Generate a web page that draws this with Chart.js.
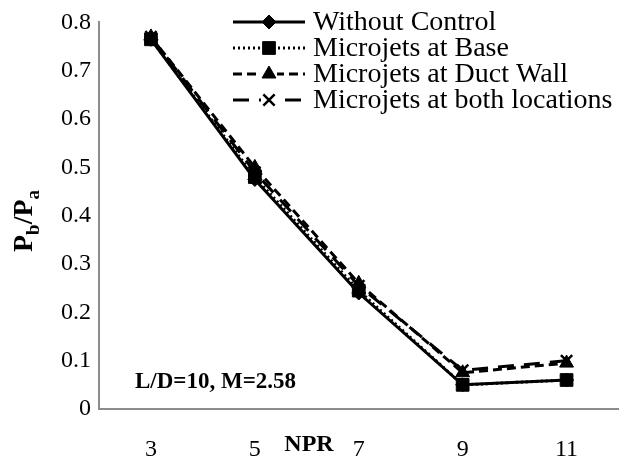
<!DOCTYPE html>
<html>
<head>
<meta charset="utf-8">
<script src="https://cdn.jsdelivr.net/npm/chart.js@4/dist/chart.umd.min.js"></script>
<style>
  html, body { margin: 0; padding: 0; background: #fff; }
  #wrap { width: 629px; height: 462px; }
</style>
</head>
<body>
<div id="wrap"><canvas id="npr" width="629" height="462"></canvas></div>
<script>
const nprLabels = ['3', '5', '7', '9', '11'];
const withoutControl = [0.765, 0.475, 0.24, 0.05, 0.06];
const jetsBase = [0.765, 0.48, 0.245, 0.05, 0.06];
const jetsDuctWall = [0.77, 0.50, 0.26, 0.075, 0.095];
const jetsBoth = [0.77, 0.49, 0.255, 0.08, 0.10];
const yTicks = [0, 0.1, 0.2, 0.3, 0.4, 0.5, 0.6, 0.7, 0.8];

const serif = "'Liberation Serif', 'Times New Roman', serif";
const axisGray = '#8c8c8c';

function series(label, data, dash, pointStyle, radius, order) {
    return {
        label: label,
        data: data,
        borderColor: '#000',
        backgroundColor: '#000',
        borderWidth: 3,
        borderDash: dash,
        pointStyle: pointStyle,
        pointRadius: radius,
        pointBorderWidth: pointStyle === 'crossRot' ? 2.5 : 1,
        pointBorderColor: '#000',
        pointBackgroundColor: '#000',
        tension: 0,
        fill: false,
        order: order
    };
}

// legend drawn like the spreadsheet one: line sample with marker in the middle
const sampleLegend = {
    id: 'sampleLegend',
    afterDraw(chart) {
        const ctx = chart.ctx;
        const x0 = 233, x1 = 305, textX = 313;
        const rows = [22, 48, 74, 100];
        chart.data.datasets.forEach((ds, i) => {
            const y = rows[i];
            const mx = (x0 + x1) / 2;
            ctx.save();
            ctx.strokeStyle = '#000';
            ctx.lineWidth = 3;
            ctx.setLineDash(ds.borderDash || []);
            ctx.beginPath();
            ctx.moveTo(x0, y);
            ctx.lineTo(x1, y);
            ctx.stroke();
            ctx.setLineDash([]);
            if ((ds.borderDash || []).length) {
                ctx.fillStyle = '#fff';
                ctx.fillRect(mx - 8, y - 8, 16, 16);
            }
            ctx.fillStyle = '#000';
            ctx.strokeStyle = '#000';
            ctx.lineWidth = ds.pointBorderWidth;
            Chart.helpers.drawPoint(ctx, {
                pointStyle: ds.pointStyle,
                radius: ds.pointRadius,
                borderWidth: ds.pointBorderWidth,
                rotation: 0
            }, mx, y);
            ctx.fillStyle = '#000';
            ctx.font = '28px ' + serif;
            ctx.textAlign = 'left';
            ctx.textBaseline = 'middle';
            ctx.fillText(ds.label, textX, y + 1);
            ctx.restore();
        });
    }
};

// axis titles and the case note
const chartTexts = {
    id: 'chartTexts',
    afterDraw(chart) {
        const ctx = chart.ctx;
        ctx.save();
        ctx.fillStyle = '#000';

        ctx.font = 'bold 23px ' + serif;
        ctx.textAlign = 'left';
        ctx.textBaseline = 'alphabetic';
        ctx.fillText('L/D=10, M=2.58', 135, 388);

        ctx.font = 'bold 24px ' + serif;
        ctx.textAlign = 'center';
        ctx.textBaseline = 'middle';
        ctx.fillText('NPR', 309, 445);

        // Pb/Pa rotated, with subscripts
        ctx.translate(32, 252);
        ctx.rotate(-Math.PI / 2);
        ctx.textAlign = 'left';
        ctx.textBaseline = 'alphabetic';
        const parts = [['P', false], ['b', true], ['/', false], ['P', false], ['a', true]];
        let x = 0;
        parts.forEach(p => {
            ctx.font = p[1] ? 'bold 19px ' + serif : 'bold 28px ' + serif;
            ctx.fillText(p[0], x, p[1] ? 7 : 0);
            x += ctx.measureText(p[0]).width;
        });
        ctx.restore();
    }
};

new Chart(document.getElementById('npr').getContext('2d'), {
    type: 'line',
    data: {
        labels: nprLabels,
        datasets: [
            series('Without Control', withoutControl, [], 'rectRot', 7, 1),
            series('Microjets at Base', jetsBase, [2, 3], 'rect', 9, 2),
            series('Microjets at Duct Wall', jetsDuctWall, [9, 5], 'triangle', 8, 3),
            series('Microjets at both locations', jetsBoth, [16, 10], 'crossRot', 8, 4)
        ]
    },
    options: {
        responsive: false,
        devicePixelRatio: 1,
        animation: false,
        layout: { padding: { left: 0, right: 1, top: 17, bottom: 0 } },
        plugins: {
            legend: { display: false },
            tooltip: { enabled: false }
        },
        scales: {
            x: {
                offset: true,
                grid: { display: false, drawTicks: false },
                border: { display: true, color: axisGray, width: 2 },
                ticks: {
                    color: '#000',
                    font: { family: serif, size: 24 },
                    padding: 26,
                    maxRotation: 0
                },
                afterFit(scale) { scale.height = 53; }
            },
            y: {
                min: 0,
                max: 0.8,
                afterBuildTicks(scale) {
                    scale.ticks = yTicks.map(v => ({ value: v }));
                },
                grid: { display: false, drawTicks: false },
                border: { display: true, color: axisGray, width: 2 },
                ticks: {
                    color: '#000',
                    font: { family: serif, size: 24 },
                    padding: 8,
                    callback: v => (v === 0 ? '0' : v.toFixed(1))
                },
                afterFit(scale) { scale.width = 99; }
            }
        }
    },
    plugins: [sampleLegend, chartTexts]
});
</script>
</body>
</html>
